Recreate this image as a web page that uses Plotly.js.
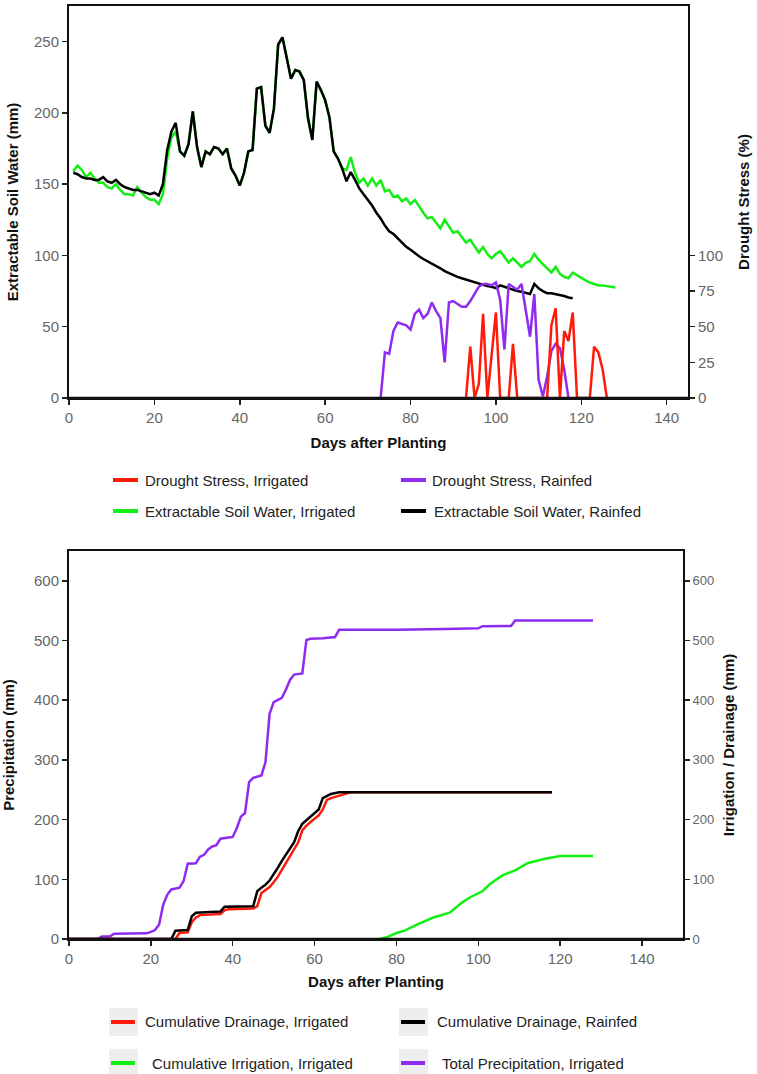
<!DOCTYPE html>
<html><head><meta charset="utf-8">
<script src="https://cdn.plot.ly/plotly-3.0.1.min.js"></script>
<style>body{margin:0;background:#fff;overflow:hidden;} #top{width:757px;height:540px;} #bottom{width:757px;height:534px;}</style>
</head><body><div id="top"></div><div id="bottom"></div>
<script>
// ---------- Top chart data (daily, days after planting) ----------
const eswRainfedStart = 1;
const eswRainfed = [158,157,155,154,154,153,153,155,152,151,
153,150,148,147,146,146,145,144,143,144,
142,150,174,187,193,173,170,178,201,176,
162,173,171,176,175,171,175,161,156,149,
158,173,174,217,218,191,186,203,248,253,
239,224,230,229,223,196,181,222,216,209,
197,173,168,161,152,158.5,153,147,143,139,
135,130,126,121,117,115,112,109,106,104,
101.5,99.5,97.5,96,94,92.5,91,89,87.5,86,
85,84,83,82,81,80,79,78.5,78,77,
79,78,76.5,75.5,75,74.5,74,73,80,77,
75,73.5,73.5,73,72,71.5,70.5,70];
const eswIrrigatedStart = 1;
const eswIrrigated = [159,163,160,155,158,154,151,151,148,147,
150,146,143,143,142,148,144,141,139,139,
136,143,168,183,187,173,170,178,201,176,
162,173,171,176,175,171,175,161,156,149,
158,173,174,217,218,191,186,203,248,253,
239,224,230,229,223,196,181,222,216,209,
197,173,168,161,160,169,158,151,154,149,
154,149,153,145,146,141,142,138,140,136,
139,134,130,126,127,123,119,125,120,116,
117,113,109,111,106,102,106,101,98,101,
103,99,95,98,95,92,95,96,101,97,
94,91,88,92,87,85,84,88,86,84.5,
82.5,81,80,79,79,78.5,78,77.5];
const dsRainfedStart = 73;
const dsRainfed = [0,32,31,47,53,52,51,48,59,62,
56,59,67,61,56,25,67,68,66,64,
64,68,73,78,80,80,79,81,69,34,
80,78,76,80,60,43,73,13,1,15,
33,38,35,20,0];
const dsIrrigatedStart = 93;
const dsIrrigated = [0,36,0,10,59,0,30,60,0,0,
0,38,0,0,0,0,0,0,0,0,
51,63,0,47,40,60,0,0,0,0,
36,32,20,0];

// ---------- Bottom chart data ----------
const precipDays = [0,7,8,10,11,19,20,21,22,23,24,25,27,28,29,31,32,33,34,35,36,37,39,40,41,42,43,44,45,47,48,49,50,51,52,53,54,55,57,58,59,62,63,65,66,80,92,100,101,108,109,128];
const precipVals = [0,0,4,4,9,9.5,12,15,24,57,74,83,86,97,126,127,138,141,150,155,157,168,170,171,186,205,211,263,270,274,296,377,397,400,404,418,434,443,445,501,503,504,505,506,518,518,519.5,520.5,524,524.5,533.5,533.5];
const drainRainfedDays = [0,25,26,29,30,31,37,38,45,46,47,48,49,50,51,52,53,54,55,56,57,58,59,60,61,62,63,64,66,118];
const drainRainfedVals = [0,0,14,15,38,44,46,54,55,80,86,91,98,108,119,131,142,152,162,181,193,199,205,210,217,236,240,243,246,246];
const drainIrrDays = [0,26,27,29,30,31,32,37,38,39,45,46,47,48,49,50,51,52,53,54,55,56,57,58,59,60,61,62,63,64,65,66,67,68,69,118];
const drainIrrVals = [0,0,10,11,28,36,40,42,48,50,51,55,77,82,87,95,104,116,128,140,151,162,182,190,196,201,207,217,233,236,238,240,242,244,246,246];
const irrDays = [76,78,80,82,85,89,93,94,96,98,100,101,103,106,109,112,116,120,128];
const irrVals = [0,4,10,14,24,36,44,50,61,70,76,80,93,107,115,127,134,139,139];

// ---------- Labels ----------
const topNames = ['Drought Stress, Irrigated','Drought Stress, Rainfed','Extractable Soil Water, Irrigated','Extractable Soil Water, Rainfed'];
const bottomNames = ['Cumulative Drainage, Irrigated','Cumulative Drainage, Rainfed','Cumulative Irrigation, Irrigated','Total Precipitation, Irrigated'];
const xTicks = [0,20,40,60,80,100,120,140];
const eswTicks = [0,50,100,150,200,250];
const dsTicks = [0,25,50,75,100];
const mmTicks = [0,100,200,300,400,500,600];

const C = {red:'#ff1a0a', green:'#14ee14', black:'#000000', purple:'#8f2bf0'};
const FONT = 'Liberation Sans, Arial, Helvetica, sans-serif';
const dayAxis = (start, arr) => arr.map((_, i) => start + i);

function axisBase(extra){
  return Object.assign({
    showline:true, linewidth:2, linecolor:'#111', mirror:true,
    ticks:'outside', ticklen:5, tickwidth:1.5, tickcolor:'#222',
    showgrid:false, zeroline:false,
    tickfont:{family:FONT, size:15, color:'#666'}
  }, extra);
}
function titleObj(text, standoff){
  return {text:text, font:{family:FONT, size:15, color:'#111', weight:'bold'}, standoff:standoff};
}
// bottom axis line redrawn above overlay traces so zero-valued runs stay hidden like the original
const baseLine = {type:'line', xref:'paper', yref:'paper', x0:0, x1:1, y0:0, y1:0, layer:'above', line:{color:'#111', width:2.6}};
function legend(names, colors, box, spec){
  const shapes = [], anns = [];
  const px = x => (x - box.L)/(box.R - box.L);
  const py = y => (box.B - y)/(box.B - box.T);
  names.forEach((n, i) => {
    const col = i % 2, row = Math.floor(i/2);
    const y = spec.rows[row];
    if (spec.bg) shapes.push({type:'rect', xref:'paper', yref:'paper', layer:'below',
      x0:px(spec.bgX[col]), x1:px(spec.bgX[col]+spec.bgW), y0:py(y-14), y1:py(y+14),
      fillcolor:'#eeeeee', line:{width:0}});
    shapes.push({type:'line', xref:'paper', yref:'paper', x0:px(spec.lineX[col]), x1:px(spec.lineX[col]+spec.lineW),
      y0:py(y), y1:py(y), line:{color:colors[i], width:4}});
    anns.push({text:n, xref:'paper', yref:'paper', x:px(spec.textX[row][col]), y:py(y), xanchor:'left', yanchor:'middle',
      showarrow:false, font:{family:FONT, size:15, color:'#222'}});
  });
  return {shapes, anns};
}

// ---------- Top chart ----------
const topBox = {L:69, R:688, T:6, B:398};
const topTraces = [
  {x:dayAxis(eswIrrigatedStart, eswIrrigated), y:eswIrrigated, name:topNames[2], mode:'lines', line:{color:C.green, width:2.5}},
  {x:dayAxis(eswRainfedStart, eswRainfed), y:eswRainfed, name:topNames[3], mode:'lines', line:{color:C.black, width:2.5}},
  {x:dayAxis(dsRainfedStart, dsRainfed), y:dsRainfed, name:topNames[1], mode:'lines', yaxis:'y2', line:{color:C.purple, width:2.5}},
  {x:dayAxis(dsIrrigatedStart, dsIrrigated), y:dsIrrigated, name:topNames[0], mode:'lines', yaxis:'y2', line:{color:C.red, width:2.5}}
];
const topLeg = legend(topNames, [C.red, C.purple, C.green, C.black], topBox,
  {rows:[480,511], lineX:[113,401], lineW:25, textX:[[143,430],[143,432]]});
const topLayout = {
  width:757, height:540, margin:{l:69, r:69, t:6, b:142},
  paper_bgcolor:'#fff', plot_bgcolor:'#fff', showlegend:false,
  font:{family:FONT},
  xaxis:axisBase({range:[0,145], tickvals:xTicks, title:titleObj('Days after Planting', 12)}),
  yaxis:axisBase({range:[0,275], tickvals:eswTicks, title:titleObj('Extractable Soil Water (mm)', 12)}),
  yaxis2:axisBase({range:[0,275], tickvals:dsTicks, overlaying:'y', side:'right', mirror:false,
    title:titleObj('Drought Stress (%)', 16)}),
  shapes:topLeg.shapes.concat([baseLine]), annotations:topLeg.anns
};
Plotly.newPlot('top', topTraces, topLayout, {staticPlot:true, displayModeBar:false});

// ---------- Bottom chart ----------
const botBox = {L:69, R:683, T:11, B:399};
const botTraces = [
  {x:precipDays, y:precipVals, name:bottomNames[3], mode:'lines', line:{color:C.purple, width:2.5}},
  {x:irrDays, y:irrVals, name:bottomNames[2], mode:'lines', yaxis:'y2', line:{color:C.green, width:2.5}},
  {x:drainIrrDays, y:drainIrrVals, name:bottomNames[0], mode:'lines', yaxis:'y2', line:{color:C.red, width:2.5}},
  {x:drainRainfedDays, y:drainRainfedVals, name:bottomNames[1], mode:'lines', yaxis:'y2', line:{color:C.black, width:2.5}}
];
const botLeg = legend(bottomNames, [C.red, C.black, C.green, C.purple], botBox,
  {rows:[482,523], lineX:[111,401], lineW:24, textX:[[143,435],[150,440]], bg:true, bgX:[109,399], bgW:29});
const botLayout = {
  width:757, height:534, margin:{l:69, r:74, t:11, b:135},
  paper_bgcolor:'#fff', plot_bgcolor:'#fff', showlegend:false,
  font:{family:FONT},
  xaxis:axisBase({range:[0,150], tickvals:xTicks, title:titleObj('Days after Planting', 10)}),
  yaxis:axisBase({range:[0,650], tickvals:mmTicks, title:titleObj('Precipitation (mm)', 16)}),
  yaxis2:axisBase({range:[0,650], tickvals:mmTicks, overlaying:'y', side:'right', mirror:false,
    tickfont:{family:FONT, size:13, color:'#666'}, title:titleObj('Irrigation / Drainage (mm)', 10)}),
  shapes:botLeg.shapes.concat([baseLine]), annotations:botLeg.anns
};
Plotly.newPlot('bottom', botTraces, botLayout, {staticPlot:true, displayModeBar:false});
</script></body></html>
